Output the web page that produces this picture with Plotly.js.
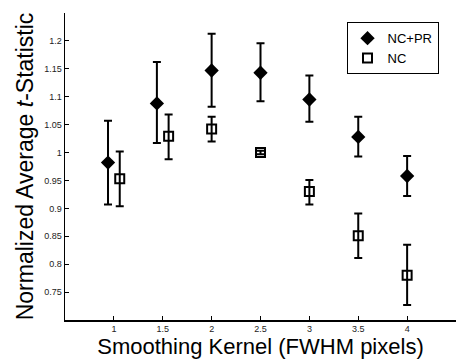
<!DOCTYPE html>
<html><head><meta charset="utf-8">
<script src="https://cdn.plot.ly/plotly-3.0.1.min.js"></script>
<style>html,body{margin:0;padding:0;background:#fff}#chart{width:466px;height:360px}</style>
</head><body><div id="chart"></div>
<script>
// Data
const xNCPR = [0.94, 1.44, 2, 2.5, 3, 3.5, 4];
const yNCPR = [0.982, 1.088, 1.147, 1.143, 1.095, 1.028, 0.958];
const errUpNCPR = [0.075, 0.074, 0.066, 0.053, 0.043, 0.036, 0.036];
const errDnNCPR = [0.075, 0.071, 0.065, 0.051, 0.040, 0.035, 0.036];

const xNC = [1.06, 1.56, 2, 2.5, 3, 3.5, 4];
const yNC = [0.953, 1.029, 1.042, 1.000, 0.930, 0.851, 0.780];
const errUpNC = [0.049, 0.039, 0.022, 0.003, 0.021, 0.040, 0.055];
const errDnNC = [0.049, 0.041, 0.022, 0.003, 0.023, 0.040, 0.053];

const xTickVals = [0.5, 1, 1.5, 2, 2.5, 3, 3.5, 4, 4.5];
const xTickText = ['', '1', '1.5', '2', '2.5', '3', '3.5', '4', ''];
const yTickVals = [0.7, 0.75, 0.8, 0.85, 0.9, 0.95, 1, 1.05, 1.1, 1.15, 1.2];
const yTickText = ['', '0.75', '0.8', '0.85', '0.9', '0.95', '1', '1.05', '1.1', '1.15', '1.2'];

const traces = [
  {
    x: xNCPR, y: yNCPR, name: 'NC+PR', type: 'scatter', mode: 'markers',
    marker: {symbol: 'diamond', size: 11, color: '#000'},
    error_y: {type: 'data', symmetric: false, array: errUpNCPR, arrayminus: errDnNCPR,
              color: '#000', thickness: 2, width: 4}
  },
  {
    x: xNC, y: yNC, name: 'NC', type: 'scatter', mode: 'markers',
    marker: {symbol: 'square-open', size: 9, color: '#000', line: {width: 2, color: '#000'}},
    error_y: {type: 'data', symmetric: false, array: errUpNC, arrayminus: errDnNC,
              color: '#000', thickness: 2, width: 4}
  }
];

const layout = {
  width: 466, height: 360,
  margin: {l: 65, r: 10, t: 13, b: 40},
  paper_bgcolor: '#fff', plot_bgcolor: '#fff',
  font: {family: 'Arial, Liberation Sans, sans-serif', color: '#000'},
  showlegend: true,
  legend: {
    x: 0.72, y: 0.97, xanchor: 'left', yanchor: 'top',
    bordercolor: '#000', borderwidth: 1, bgcolor: '#fff',
    font: {size: 13, color: '#000'},
    tracegroupgap: 0, itemwidth: 30
  },
  xaxis: {
    range: [0.5, 4.5], tickmode: 'array', tickvals: xTickVals, ticktext: xTickText,
    ticks: 'inside', ticklen: 4, tickwidth: 1, tickcolor: '#000',
    showline: true, linecolor: '#000', linewidth: 1.5, mirror: false,
    showgrid: false, zeroline: false,
    tickfont: {size: 9, color: '#222'},
    title: {text: 'Smoothing Kernel (FWHM pixels)', font: {size: 22, color: '#000'}, standoff: 3}
  },
  yaxis: {
    range: [0.7, 1.25], tickmode: 'array', tickvals: yTickVals, ticktext: yTickText,
    ticks: 'inside', ticklen: 4, tickwidth: 1, tickcolor: '#000',
    showline: true, linecolor: '#000', linewidth: 1.5, mirror: false,
    showgrid: false, zeroline: false,
    tickfont: {size: 9, color: '#222'},
    title: {text: 'Normalized Average <i>t</i>-Statistic', font: {size: 23, color: '#000'}, standoff: 4}
  }
};

Plotly.newPlot('chart', traces, layout, {displayModeBar: false, staticPlot: true});
</script>
</body></html>
